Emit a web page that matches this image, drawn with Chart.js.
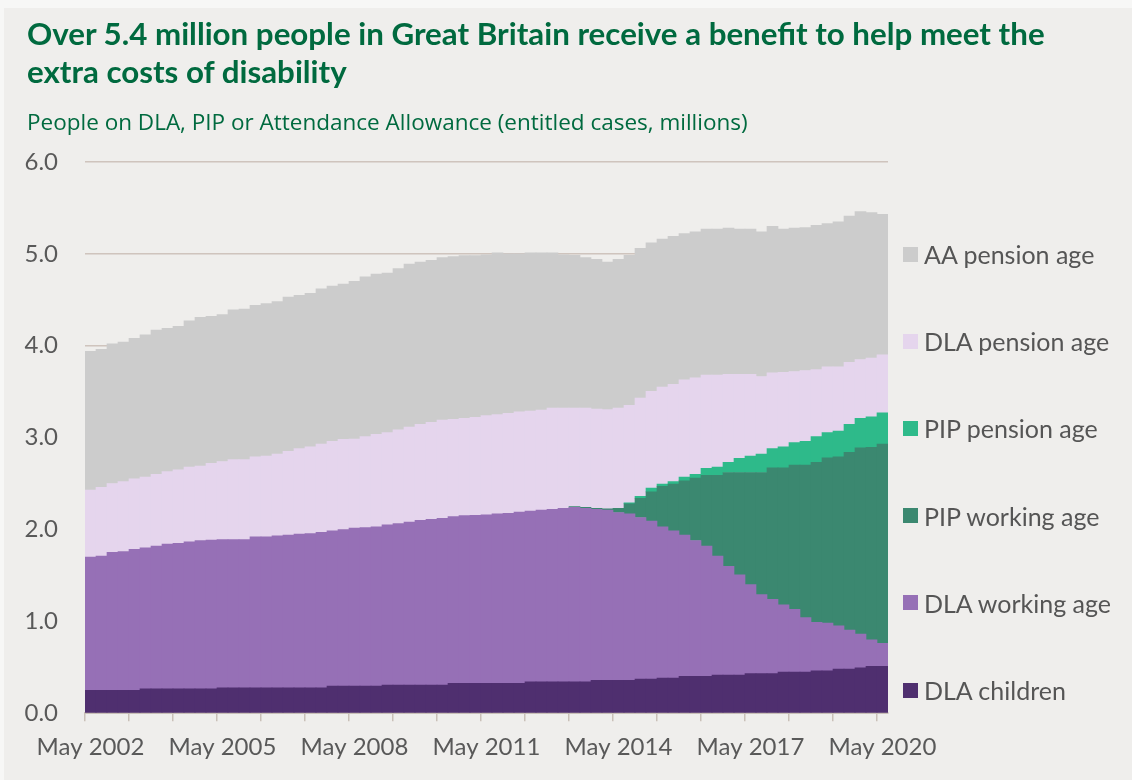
<!DOCTYPE html>
<html>
<head>
<meta charset="utf-8">
<script src="https://cdn.jsdelivr.net/npm/chart.js@4.4.1/dist/chart.umd.min.js"></script>
<style>
   html, body { margin: 0; padding: 0; background: #f7f7f6; }
   #wrap { position: absolute; left: 4px; top: 8px; width: 1128px; height: 772px; background: #efeeec; }
   #title { position: absolute; left: 23px; top: 6px; font-family: Lato, sans-serif; font-weight: bold;
      font-size: 31.3px; line-height: 38px; color: #006a3f; white-space: nowrap; }
   #subtitle { position: absolute; left: 23px; top: 99px; font-family: 'Open Sans', sans-serif;
      font-size: 22.5px; line-height: 30px; color: #006a3f; white-space: nowrap; }
   #canvas { position: absolute; left: 0; top: 0; }
   #legend { position: absolute; left: 899px; top: 0; font-family: Lato, sans-serif; font-size: 25px; color: #555; }
   .item { position: absolute; left: 0; height: 30px; display: flex; align-items: center; white-space: nowrap; }
   .box { width: 15px; height: 15px; margin-right: 6px; }
</style>
</head>
<body>
<div id="wrap">
   <canvas id="canvas"></canvas>
   <div id="title">Over 5.4 million people in Great Britain receive a benefit to help meet the<br>extra costs of disability</div>
   <div id="subtitle">People on DLA, PIP or Attendance Allowance (entitled cases, millions)</div>
   <div id="legend"></div>
</div>
<script>
// quarterly, May 2002 to May 2020
var quarters = [
   'May 2002', 'Aug 2002', 'Nov 2002',
   'Feb 2003', 'May 2003', 'Aug 2003', 'Nov 2003',
   'Feb 2004', 'May 2004', 'Aug 2004', 'Nov 2004',
   'Feb 2005', 'May 2005', 'Aug 2005', 'Nov 2005',
   'Feb 2006', 'May 2006', 'Aug 2006', 'Nov 2006',
   'Feb 2007', 'May 2007', 'Aug 2007', 'Nov 2007',
   'Feb 2008', 'May 2008', 'Aug 2008', 'Nov 2008',
   'Feb 2009', 'May 2009', 'Aug 2009', 'Nov 2009',
   'Feb 2010', 'May 2010', 'Aug 2010', 'Nov 2010',
   'Feb 2011', 'May 2011', 'Aug 2011', 'Nov 2011',
   'Feb 2012', 'May 2012', 'Aug 2012', 'Nov 2012',
   'Feb 2013', 'May 2013', 'Aug 2013', 'Nov 2013',
   'Feb 2014', 'May 2014', 'Aug 2014', 'Nov 2014',
   'Feb 2015', 'May 2015', 'Aug 2015', 'Nov 2015',
   'Feb 2016', 'May 2016', 'Aug 2016', 'Nov 2016',
   'Feb 2017', 'May 2017', 'Aug 2017', 'Nov 2017',
   'Feb 2018', 'May 2018', 'Aug 2018', 'Nov 2018',
   'Feb 2019', 'May 2019', 'Aug 2019', 'Nov 2019',
   'Feb 2020', 'May 2020'
];

// millions of entitled cases
var dlaChildren = [
   0.25, 0.25, 0.25, 0.25, 0.25, 0.265, 0.265, 0.265, 0.265, 0.265,
   0.265, 0.265, 0.276, 0.276, 0.276, 0.276, 0.276, 0.276, 0.276, 0.276,
   0.276, 0.276, 0.295, 0.295, 0.295, 0.295, 0.295, 0.305, 0.305, 0.305,
   0.305, 0.305, 0.305, 0.324, 0.324, 0.324, 0.324, 0.324, 0.324, 0.324,
   0.342, 0.342, 0.342, 0.342, 0.342, 0.342, 0.357, 0.357, 0.357, 0.357,
   0.371, 0.371, 0.382, 0.382, 0.40, 0.40, 0.40, 0.415, 0.415, 0.415,
   0.43, 0.43, 0.43, 0.447, 0.447, 0.447, 0.46, 0.46, 0.48, 0.48,
   0.494, 0.51, 0.51
];
var dlaWorking = [
   1.45, 1.46, 1.50, 1.51, 1.535, 1.535, 1.555, 1.575, 1.585, 1.60,
   1.615, 1.62, 1.614, 1.614, 1.614, 1.644, 1.644, 1.654, 1.664, 1.674,
   1.679, 1.694, 1.69, 1.705, 1.72, 1.725, 1.735, 1.745, 1.76, 1.775,
   1.795, 1.805, 1.815, 1.816, 1.826, 1.831, 1.836, 1.846, 1.851, 1.866,
   1.858, 1.868, 1.878, 1.888, 1.898, 1.888, 1.863, 1.853, 1.828, 1.813,
   1.759, 1.719, 1.648, 1.603, 1.54, 1.48, 1.42, 1.295, 1.185, 1.09,
   0.97, 0.86, 0.81, 0.733, 0.683, 0.593, 0.53, 0.52, 0.47, 0.425,
   0.366, 0.29, 0.25
];
var pipWorking = [
   null, null, null, null, null, null, null, null, null, null,
   null, null, null, null, null, null, null, null, null, null,
   null, null, null, null, null, null, null, null, null, null,
   null, null, null, null, null, null, null, null, null, null,
   null, null, null, null, 0.01, 0.01, 0.01, 0.015, 0.045, 0.11,
   0.21, 0.32, 0.44, 0.51, 0.59, 0.68, 0.77, 0.88, 1.02, 1.115,
   1.22, 1.33, 1.43, 1.49, 1.57, 1.66, 1.74, 1.80, 1.84, 1.935,
   2.03, 2.095, 2.17
];
var pipPension = [
   null, null, null, null, null, null, null, null, null, null,
   null, null, null, null, null, null, null, null, null, null,
   null, null, null, null, null, null, null, null, null, null,
   null, null, null, null, null, null, null, null, null, null,
   null, null, null, null, null, null, null, null, null, 0.01,
   0.02, 0.04, 0.025, 0.025, 0.04, 0.04, 0.075, 0.09, 0.11, 0.155,
   0.18, 0.20, 0.21, 0.23, 0.245, 0.26, 0.28, 0.275, 0.28, 0.305,
   0.32, 0.33, 0.34
];
var dlaPension = [
   0.73, 0.75, 0.75, 0.76, 0.765, 0.77, 0.78, 0.79, 0.80, 0.815,
   0.81, 0.835, 0.85, 0.87, 0.87, 0.87, 0.88, 0.89, 0.91, 0.93,
   0.945, 0.96, 0.975, 0.98, 0.97, 0.99, 1.005, 1.005, 1.02, 1.035,
   1.045, 1.055, 1.07, 1.06, 1.06, 1.065, 1.08, 1.08, 1.09, 1.09,
   1.09, 1.09, 1.10, 1.09, 1.07, 1.08, 1.08, 1.08, 1.09, 1.06,
   1.07, 1.055, 1.055, 1.06, 1.06, 1.05, 1.015, 1.00, 0.96, 0.915,
   0.89, 0.845, 0.825, 0.81, 0.775, 0.77, 0.73, 0.715, 0.70, 0.675,
   0.64, 0.64, 0.63
];
var aaPension = [
   1.51, 1.50, 1.52, 1.52, 1.53, 1.55, 1.57, 1.56, 1.56, 1.59,
   1.62, 1.60, 1.60, 1.63, 1.64, 1.65, 1.66, 1.66, 1.68, 1.67,
   1.67, 1.69, 1.69, 1.69, 1.715, 1.74, 1.745, 1.735, 1.755, 1.775,
   1.765, 1.765, 1.77, 1.77, 1.77, 1.76, 1.75, 1.76, 1.735, 1.72,
   1.72, 1.71, 1.69, 1.67, 1.665, 1.64, 1.63, 1.605, 1.62, 1.635,
   1.63, 1.615, 1.61, 1.61, 1.59, 1.59, 1.59, 1.59, 1.59, 1.58,
   1.58, 1.575, 1.595, 1.56, 1.56, 1.555, 1.57, 1.56, 1.58, 1.59,
   1.61, 1.585, 1.53
];

var yTicks = [0, 1, 2, 3, 4, 5, 6];

var tickFont = { family: 'Lato', size: 24 };

function series(label, data, colour) {
   return {
      label: label,
      data: data,
      backgroundColor: colour,
      borderWidth: 0,
      barPercentage: 1.0,
      categoryPercentage: 1.0
   };
}

var chartData = {
   labels: quarters,
   datasets: [
      series('DLA children', dlaChildren, '#4f2f6f'),
      series('DLA working age', dlaWorking, '#9670b6'),
      series('PIP working age', pipWorking, '#3b8870'),
      series('PIP pension age', pipPension, '#2eba8a'),
      series('DLA pension age', dlaPension, '#e5d5ed'),
      series('AA pension age', aaPension, '#cccccc')
   ]
};

window.onload = function () {
   var ctx = document.getElementById('canvas').getContext('2d');
   window.myChart = new Chart(ctx, {
      type: 'bar',
      data: chartData,
      options: {
         responsive: true,
         maintainAspectRatio: false,
         animation: false,
         layout: {
            padding: { left: 13, right: 244, top: 154, bottom: 6 }
         },
         plugins: {
            legend: { display: false },
            tooltip: { enabled: false }
         },
         scales: {
            x: {
               stacked: true,
               z: 1,
               afterFit: function (scale) {
                  // let the first label overhang the plot instead of pushing it right
                  scale.paddingLeft = 0;
                  scale.paddingRight = 0;
               },
               grid: {
                  drawOnChartArea: false,
                  offset: true,
                  tickLength: 8,
                  lineWidth: 1.5,
                  color: function (c) {
                     return (c.index % 4 === 0 && c.index < quarters.length) ? '#c9c0b8' : 'rgba(0,0,0,0)';
                  }
               },
               border: { color: '#c9c0b8', width: 2 },
               ticks: {
                  autoSkip: false,
                  maxRotation: 0,
                  padding: 12,
                  color: '#595959',
                  font: tickFont,
                  callback: function (val, i) {
                     return i % 12 === 0 ? this.getLabelForValue(val) : '';
                  }
               }
            },
            y: {
               stacked: true,
               z: 1,
               min: yTicks[0],
               max: yTicks[yTicks.length - 1],
               afterBuildTicks: function (axis) {
                  axis.ticks = yTicks.map(function (v) { return { value: v }; });
               },
               afterFit: function (scale) {
                  // padding is counted twice by default
                  scale.width = 68;
               },
               grid: { color: 'rgba(140,110,90,0.32)', lineWidth: 1.5, drawTicks: false },
               border: { display: false },
               ticks: {
                  padding: 27,
                  color: '#595959',
                  font: tickFont,
                  callback: function (v) { return v.toFixed(1); }
               }
            }
         }
      }
   });

   // legend on the right, top to bottom as in the stack
   var legend = document.getElementById('legend');
   var sets = window.myChart.data.datasets.slice().reverse();
   sets.forEach(function (ds, i) {
      var item = document.createElement('div');
      item.className = 'item';
      item.style.top = (231 + i * 87.2) + 'px';
      var box = document.createElement('span');
      box.className = 'box';
      box.style.background = ds.backgroundColor;
      item.appendChild(box);
      item.appendChild(document.createTextNode(ds.label));
      legend.appendChild(item);
   });
};
</script>
</body>
</html>
